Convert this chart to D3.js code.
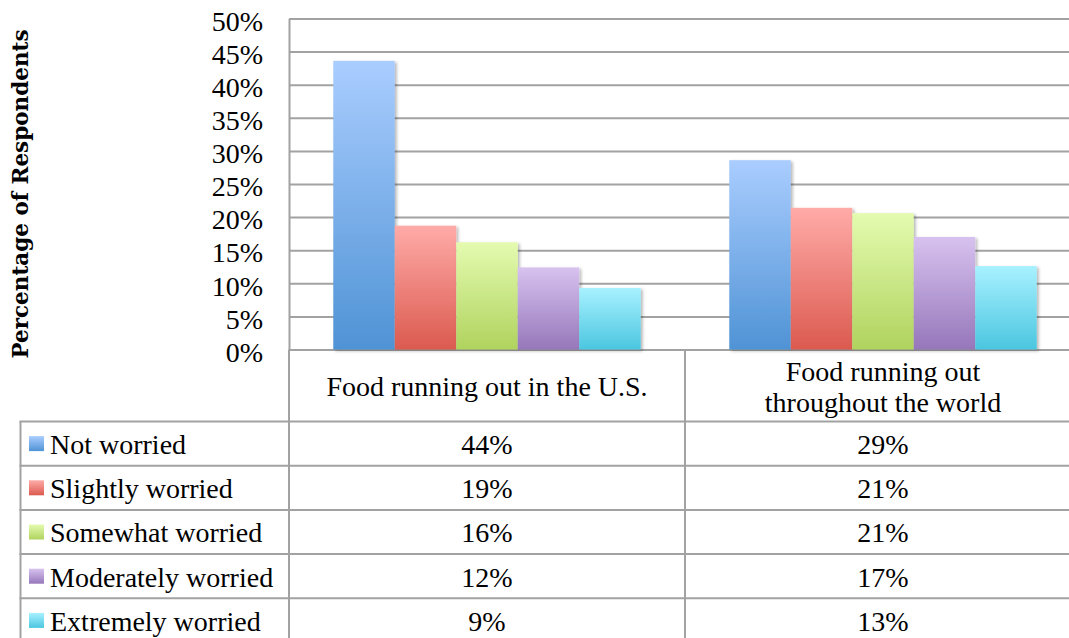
<!DOCTYPE html>
<html>
<head>
<meta charset="utf-8">
<script src="https://cdn.jsdelivr.net/npm/d3@7"></script>
<style>
  html, body { margin: 0; padding: 0; background: #fff; }
  svg { display: block; }
  text { font-family: "Liberation Serif", "Times New Roman", serif; fill: #000; }
  text.axis-title { font-family: "DejaVu Serif", serif; font-weight: bold; }
</style>
</head>
<body>
<svg id="chart" width="1069" height="638"></svg>
<script>
// Survey answers, percent of respondents
const categories = ["Food running out in the U.S.", "Food running out throughout the world"];
const categoryLines = [["Food running out in the U.S."], ["Food running out", "throughout the world"]];
const series = ["Not worried", "Slightly worried", "Somewhat worried", "Moderately worried", "Extremely worried"];
const usValues = [43.6, 18.7, 16.2, 12.4, 9.3];
const worldValues = [28.6, 21.4, 20.6, 17.0, 12.6];
const yTicks = [0, 5, 10, 15, 20, 25, 30, 35, 40, 45, 50];
const axisTitle = "Percentage of Respondents";

// gradient colours (top, bottom) per series
const colorTop = ["#aacdff", "#ffaba8", "#e4fbb0", "#d7c2ef", "#a8f1ff"];
const colorBottom = ["#4f93d5", "#db5a4f", "#b0d35e", "#9677ba", "#4bc6e0"];

const valuesByCategory = [usValues, worldValues];

const svg = d3.select("#chart");

const plot = { left: 289, right: 1081, top: 18.5, bottom: 349.5 };
const y = d3.scaleLinear().domain([0, 50]).range([plot.bottom, plot.top]);
const x0 = d3.scaleBand().domain(categories).range([plot.left, plot.right]).padding(0);
const x1 = d3.scaleBand().domain(series).range([0, x0.bandwidth()]).paddingInner(0).paddingOuter(0.72);
const fmt = v => Math.round(v) + "%";
const fontSize = 28;

// defs: gradients and bar shadow
const defs = svg.append("defs");
series.forEach((s, i) => {
  const g = defs.append("linearGradient").attr("id", "grad" + i)
    .attr("x1", 0).attr("y1", 0).attr("x2", 0).attr("y2", 1);
  g.append("stop").attr("offset", "0%").attr("stop-color", colorTop[i]);
  g.append("stop").attr("offset", "100%").attr("stop-color", colorBottom[i]);
});
const shadow = defs.append("filter").attr("id", "shadow")
  .attr("x", "-10%").attr("y", "-5%").attr("width", "130%").attr("height", "115%");
shadow.append("feDropShadow").attr("dx", 2).attr("dy", 1.5).attr("stdDeviation", 1.8)
  .attr("flood-color", "#000").attr("flood-opacity", 0.28);

const gridColor = "#a2a2a2";

// y axis with gridlines
const yAxis = svg.append("g").attr("transform", `translate(${plot.left},0)`)
  .call(d3.axisLeft(y).tickValues(yTicks).tickFormat(d => d + "%")
    .tickSizeInner(-(plot.right - plot.left)).tickSizeOuter(0).tickPadding(26));
yAxis.select(".domain").attr("stroke", gridColor).attr("stroke-width", 2);
yAxis.selectAll(".tick line").attr("stroke", gridColor).attr("stroke-width", 2);
yAxis.selectAll(".tick text").attr("font-size", fontSize).attr("fill", "#000")
  .attr("dy", "0.42em");

// bars
const groups = svg.append("g").selectAll("g").data(categories).join("g")
  .attr("transform", d => `translate(${x0(d)},0)`);
groups.selectAll("rect")
  .data((c, ci) => series.map((s, si) => ({ s, si, v: valuesByCategory[ci][si] })))
  .join("rect")
  .attr("x", d => x1(d.s))
  .attr("y", d => y(d.v))
  .attr("width", x1.bandwidth())
  .attr("height", d => y(0) - y(d.v))
  .attr("fill", d => `url(#grad${d.si})`)
  .attr("filter", "url(#shadow)");

// axis title
svg.append("text")
  .attr("class", "axis-title")
  .attr("transform", `translate(28,${(plot.top + plot.bottom) / 2 + 10}) rotate(-90)`)
  .attr("text-anchor", "middle")
  .attr("font-size", 21.5)
  .text(axisTitle);

// data table
const table = svg.append("g");
const headerTop = y(0);
const headerBottom = 421.5;
const rowH = 44.2;
const tableLeft = 20.5;
const rowsBottom = headerBottom + rowH * series.length;
const line = (xa, ya, xb, yb) => table.append("line")
  .attr("x1", xa).attr("y1", ya).attr("x2", xb).attr("y2", yb)
  .attr("stroke", gridColor).attr("stroke-width", 2);

// header row borders
line(plot.left, headerTop, plot.left, headerBottom);
categories.forEach(c => line(x0(c) + x0.bandwidth(), headerTop, x0(c) + x0.bandwidth(), rowsBottom + 2));
// row borders
line(tableLeft, headerBottom, tableLeft, rowsBottom + 2);
line(plot.left, headerBottom, plot.left, rowsBottom + 2);
d3.range(series.length + 1).forEach(i => line(tableLeft - 1, headerBottom + i * rowH, plot.right, headerBottom + i * rowH));

// header labels
categories.forEach((c, ci) => {
  const lines = categoryLines[ci];
  const cy = (headerTop + headerBottom) / 2;
  const lh = 31.7;
  lines.forEach((t, li) => {
    table.append("text")
      .attr("x", x0(c) + x0.bandwidth() / 2)
      .attr("y", cy + (li - (lines.length - 1) / 2) * lh)
      .attr("dy", "0.39em")
      .attr("text-anchor", "middle")
      .attr("font-size", fontSize)
      .text(t);
  });
});

// legend + values rows
series.forEach((s, si) => {
  const cy = headerBottom + si * rowH + rowH / 2;
  table.append("rect").attr("x", 29).attr("y", cy - 7.5).attr("width", 15).attr("height", 15)
    .attr("fill", `url(#grad${si})`);
  table.append("text").attr("x", 50).attr("y", cy).attr("dy", "0.37em")
    .attr("font-size", fontSize).text(s);
  categories.forEach((c, ci) => {
    table.append("text")
      .attr("x", x0(c) + x0.bandwidth() / 2)
      .attr("y", cy).attr("dy", "0.37em")
      .attr("text-anchor", "middle")
      .attr("font-size", fontSize)
      .text(fmt(valuesByCategory[ci][si]));
  });
});
</script>
</body>
</html>
